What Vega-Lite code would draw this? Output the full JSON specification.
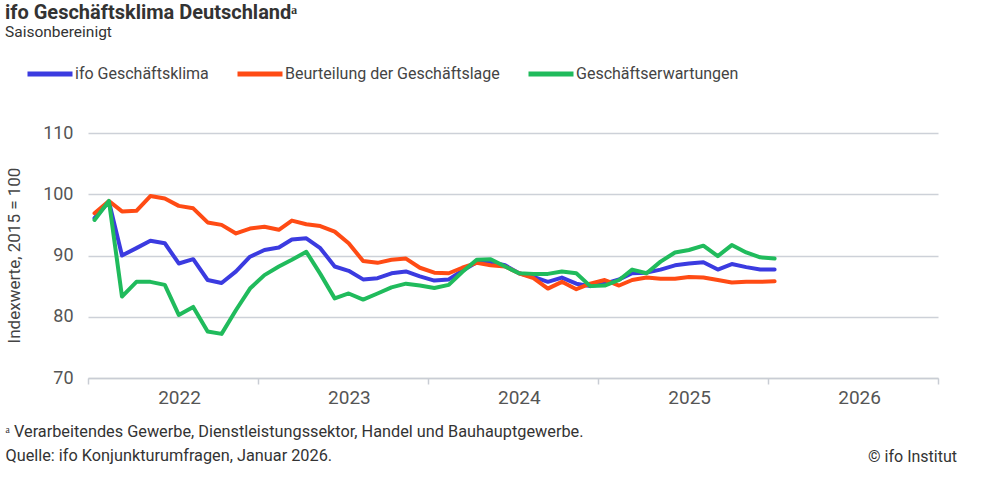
{
  "$schema": "https://vega.github.io/schema/vega-lite/v6.json",
  "width": 850,
  "height": 245,
  "autosize": {"type": "none"},
  "padding": {"left": 88, "top": 133, "right": 62, "bottom": 107},
  "background": "white",
  "config": {
    "font": "Roboto",
    "view": {"stroke": null}
  },
  "title": {
    "text": "ifo Geschäftsklima Deutschlandᵃ",
    "subtitle": "Saisonbereinigt",
    "anchor": "start",
    "frame": "group",
    "dx": -83,
    "font": "Roboto",
    "fontSize": 20,
    "fontWeight": "bold",
    "color": "#333333",
    "subtitleFont": "Roboto",
    "subtitleFontSize": 15.5,
    "subtitleColor": "#333333",
    "subtitlePadding": 2,
    "offset": 9
  },
  "datasets": {
    "ifo": [
      {"date": "2022-01-15", "series": "ifo Geschäftsklima", "value": 96.1},
      {"date": "2022-02-15", "series": "ifo Geschäftsklima", "value": 98.8},
      {"date": "2022-03-15", "series": "ifo Geschäftsklima", "value": 90.0},
      {"date": "2022-04-15", "series": "ifo Geschäftsklima", "value": 91.2},
      {"date": "2022-05-15", "series": "ifo Geschäftsklima", "value": 92.4},
      {"date": "2022-06-15", "series": "ifo Geschäftsklima", "value": 92.0},
      {"date": "2022-07-15", "series": "ifo Geschäftsklima", "value": 88.7},
      {"date": "2022-08-15", "series": "ifo Geschäftsklima", "value": 89.4},
      {"date": "2022-09-15", "series": "ifo Geschäftsklima", "value": 86.0},
      {"date": "2022-10-15", "series": "ifo Geschäftsklima", "value": 85.5},
      {"date": "2022-11-15", "series": "ifo Geschäftsklima", "value": 87.4},
      {"date": "2022-12-15", "series": "ifo Geschäftsklima", "value": 89.8},
      {"date": "2023-01-15", "series": "ifo Geschäftsklima", "value": 90.9},
      {"date": "2023-02-15", "series": "ifo Geschäftsklima", "value": 91.3},
      {"date": "2023-03-15", "series": "ifo Geschäftsklima", "value": 92.6},
      {"date": "2023-04-15", "series": "ifo Geschäftsklima", "value": 92.8},
      {"date": "2023-05-15", "series": "ifo Geschäftsklima", "value": 91.2},
      {"date": "2023-06-15", "series": "ifo Geschäftsklima", "value": 88.2},
      {"date": "2023-07-15", "series": "ifo Geschäftsklima", "value": 87.5},
      {"date": "2023-08-15", "series": "ifo Geschäftsklima", "value": 86.1},
      {"date": "2023-09-15", "series": "ifo Geschäftsklima", "value": 86.3},
      {"date": "2023-10-15", "series": "ifo Geschäftsklima", "value": 87.1},
      {"date": "2023-11-15", "series": "ifo Geschäftsklima", "value": 87.4},
      {"date": "2023-12-15", "series": "ifo Geschäftsklima", "value": 86.6},
      {"date": "2024-01-15", "series": "ifo Geschäftsklima", "value": 85.9},
      {"date": "2024-02-15", "series": "ifo Geschäftsklima", "value": 86.1},
      {"date": "2024-03-15", "series": "ifo Geschäftsklima", "value": 87.5},
      {"date": "2024-04-15", "series": "ifo Geschäftsklima", "value": 88.9},
      {"date": "2024-05-15", "series": "ifo Geschäftsklima", "value": 88.9},
      {"date": "2024-06-15", "series": "ifo Geschäftsklima", "value": 88.4},
      {"date": "2024-07-15", "series": "ifo Geschäftsklima", "value": 87.1},
      {"date": "2024-08-15", "series": "ifo Geschäftsklima", "value": 86.5},
      {"date": "2024-09-15", "series": "ifo Geschäftsklima", "value": 85.7},
      {"date": "2024-10-15", "series": "ifo Geschäftsklima", "value": 86.4},
      {"date": "2024-11-15", "series": "ifo Geschäftsklima", "value": 85.4},
      {"date": "2024-12-15", "series": "ifo Geschäftsklima", "value": 85.0},
      {"date": "2025-01-15", "series": "ifo Geschäftsklima", "value": 85.4},
      {"date": "2025-02-15", "series": "ifo Geschäftsklima", "value": 86.1},
      {"date": "2025-03-15", "series": "ifo Geschäftsklima", "value": 87.1},
      {"date": "2025-04-15", "series": "ifo Geschäftsklima", "value": 87.2},
      {"date": "2025-05-15", "series": "ifo Geschäftsklima", "value": 87.7},
      {"date": "2025-06-15", "series": "ifo Geschäftsklima", "value": 88.4},
      {"date": "2025-07-15", "series": "ifo Geschäftsklima", "value": 88.7},
      {"date": "2025-08-15", "series": "ifo Geschäftsklima", "value": 88.9},
      {"date": "2025-09-15", "series": "ifo Geschäftsklima", "value": 87.7},
      {"date": "2025-10-15", "series": "ifo Geschäftsklima", "value": 88.6},
      {"date": "2025-11-15", "series": "ifo Geschäftsklima", "value": 88.1},
      {"date": "2025-12-15", "series": "ifo Geschäftsklima", "value": 87.7},
      {"date": "2026-01-15", "series": "ifo Geschäftsklima", "value": 87.7},
      {"date": "2022-01-15", "series": "Beurteilung der Geschäftslage", "value": 96.9},
      {"date": "2022-02-15", "series": "Beurteilung der Geschäftslage", "value": 98.9},
      {"date": "2022-03-15", "series": "Beurteilung der Geschäftslage", "value": 97.2},
      {"date": "2022-04-15", "series": "Beurteilung der Geschäftslage", "value": 97.3},
      {"date": "2022-05-15", "series": "Beurteilung der Geschäftslage", "value": 99.7},
      {"date": "2022-06-15", "series": "Beurteilung der Geschäftslage", "value": 99.3},
      {"date": "2022-07-15", "series": "Beurteilung der Geschäftslage", "value": 98.1},
      {"date": "2022-08-15", "series": "Beurteilung der Geschäftslage", "value": 97.7},
      {"date": "2022-09-15", "series": "Beurteilung der Geschäftslage", "value": 95.4},
      {"date": "2022-10-15", "series": "Beurteilung der Geschäftslage", "value": 95.0},
      {"date": "2022-11-15", "series": "Beurteilung der Geschäftslage", "value": 93.6},
      {"date": "2022-12-15", "series": "Beurteilung der Geschäftslage", "value": 94.4},
      {"date": "2023-01-15", "series": "Beurteilung der Geschäftslage", "value": 94.7},
      {"date": "2023-02-15", "series": "Beurteilung der Geschäftslage", "value": 94.2},
      {"date": "2023-03-15", "series": "Beurteilung der Geschäftslage", "value": 95.7},
      {"date": "2023-04-15", "series": "Beurteilung der Geschäftslage", "value": 95.1},
      {"date": "2023-05-15", "series": "Beurteilung der Geschäftslage", "value": 94.8},
      {"date": "2023-06-15", "series": "Beurteilung der Geschäftslage", "value": 93.9},
      {"date": "2023-07-15", "series": "Beurteilung der Geschäftslage", "value": 92.0},
      {"date": "2023-08-15", "series": "Beurteilung der Geschäftslage", "value": 89.1},
      {"date": "2023-09-15", "series": "Beurteilung der Geschäftslage", "value": 88.8},
      {"date": "2023-10-15", "series": "Beurteilung der Geschäftslage", "value": 89.3},
      {"date": "2023-11-15", "series": "Beurteilung der Geschäftslage", "value": 89.5},
      {"date": "2023-12-15", "series": "Beurteilung der Geschäftslage", "value": 88.0},
      {"date": "2024-01-15", "series": "Beurteilung der Geschäftslage", "value": 87.2},
      {"date": "2024-02-15", "series": "Beurteilung der Geschäftslage", "value": 87.1},
      {"date": "2024-03-15", "series": "Beurteilung der Geschäftslage", "value": 88.0},
      {"date": "2024-04-15", "series": "Beurteilung der Geschäftslage", "value": 88.8},
      {"date": "2024-05-15", "series": "Beurteilung der Geschäftslage", "value": 88.4},
      {"date": "2024-06-15", "series": "Beurteilung der Geschäftslage", "value": 88.2},
      {"date": "2024-07-15", "series": "Beurteilung der Geschäftslage", "value": 87.1},
      {"date": "2024-08-15", "series": "Beurteilung der Geschäftslage", "value": 86.3},
      {"date": "2024-09-15", "series": "Beurteilung der Geschäftslage", "value": 84.6},
      {"date": "2024-10-15", "series": "Beurteilung der Geschäftslage", "value": 85.7},
      {"date": "2024-11-15", "series": "Beurteilung der Geschäftslage", "value": 84.5},
      {"date": "2024-12-15", "series": "Beurteilung der Geschäftslage", "value": 85.4},
      {"date": "2025-01-15", "series": "Beurteilung der Geschäftslage", "value": 86.0},
      {"date": "2025-02-15", "series": "Beurteilung der Geschäftslage", "value": 85.1},
      {"date": "2025-03-15", "series": "Beurteilung der Geschäftslage", "value": 86.0},
      {"date": "2025-04-15", "series": "Beurteilung der Geschäftslage", "value": 86.4},
      {"date": "2025-05-15", "series": "Beurteilung der Geschäftslage", "value": 86.2},
      {"date": "2025-06-15", "series": "Beurteilung der Geschäftslage", "value": 86.2},
      {"date": "2025-07-15", "series": "Beurteilung der Geschäftslage", "value": 86.5},
      {"date": "2025-08-15", "series": "Beurteilung der Geschäftslage", "value": 86.4},
      {"date": "2025-09-15", "series": "Beurteilung der Geschäftslage", "value": 86.0},
      {"date": "2025-10-15", "series": "Beurteilung der Geschäftslage", "value": 85.6},
      {"date": "2025-11-15", "series": "Beurteilung der Geschäftslage", "value": 85.7},
      {"date": "2025-12-15", "series": "Beurteilung der Geschäftslage", "value": 85.7},
      {"date": "2026-01-15", "series": "Beurteilung der Geschäftslage", "value": 85.8},
      {"date": "2022-01-15", "series": "Geschäftserwartungen", "value": 95.8},
      {"date": "2022-02-15", "series": "Geschäftserwartungen", "value": 98.9},
      {"date": "2022-03-15", "series": "Geschäftserwartungen", "value": 83.3},
      {"date": "2022-04-15", "series": "Geschäftserwartungen", "value": 85.7},
      {"date": "2022-05-15", "series": "Geschäftserwartungen", "value": 85.7},
      {"date": "2022-06-15", "series": "Geschäftserwartungen", "value": 85.2},
      {"date": "2022-07-15", "series": "Geschäftserwartungen", "value": 80.3},
      {"date": "2022-08-15", "series": "Geschäftserwartungen", "value": 81.6},
      {"date": "2022-09-15", "series": "Geschäftserwartungen", "value": 77.6},
      {"date": "2022-10-15", "series": "Geschäftserwartungen", "value": 77.2},
      {"date": "2022-11-15", "series": "Geschäftserwartungen", "value": 81.1},
      {"date": "2022-12-15", "series": "Geschäftserwartungen", "value": 84.6},
      {"date": "2023-01-15", "series": "Geschäftserwartungen", "value": 86.8},
      {"date": "2023-02-15", "series": "Geschäftserwartungen", "value": 88.2},
      {"date": "2023-03-15", "series": "Geschäftserwartungen", "value": 89.3},
      {"date": "2023-04-15", "series": "Geschäftserwartungen", "value": 90.6},
      {"date": "2023-05-15", "series": "Geschäftserwartungen", "value": 87.0},
      {"date": "2023-06-15", "series": "Geschäftserwartungen", "value": 83.0},
      {"date": "2023-07-15", "series": "Geschäftserwartungen", "value": 83.8},
      {"date": "2023-08-15", "series": "Geschäftserwartungen", "value": 82.8},
      {"date": "2023-09-15", "series": "Geschäftserwartungen", "value": 83.8},
      {"date": "2023-10-15", "series": "Geschäftserwartungen", "value": 84.8},
      {"date": "2023-11-15", "series": "Geschäftserwartungen", "value": 85.4},
      {"date": "2023-12-15", "series": "Geschäftserwartungen", "value": 85.1},
      {"date": "2024-01-15", "series": "Geschäftserwartungen", "value": 84.7},
      {"date": "2024-02-15", "series": "Geschäftserwartungen", "value": 85.2},
      {"date": "2024-03-15", "series": "Geschäftserwartungen", "value": 87.3},
      {"date": "2024-04-15", "series": "Geschäftserwartungen", "value": 89.3},
      {"date": "2024-05-15", "series": "Geschäftserwartungen", "value": 89.4},
      {"date": "2024-06-15", "series": "Geschäftserwartungen", "value": 88.2},
      {"date": "2024-07-15", "series": "Geschäftserwartungen", "value": 87.1},
      {"date": "2024-08-15", "series": "Geschäftserwartungen", "value": 87.0},
      {"date": "2024-09-15", "series": "Geschäftserwartungen", "value": 87.0},
      {"date": "2024-10-15", "series": "Geschäftserwartungen", "value": 87.4},
      {"date": "2024-11-15", "series": "Geschäftserwartungen", "value": 87.1},
      {"date": "2024-12-15", "series": "Geschäftserwartungen", "value": 85.0},
      {"date": "2025-01-15", "series": "Geschäftserwartungen", "value": 85.1},
      {"date": "2025-02-15", "series": "Geschäftserwartungen", "value": 86.0},
      {"date": "2025-03-15", "series": "Geschäftserwartungen", "value": 87.7},
      {"date": "2025-04-15", "series": "Geschäftserwartungen", "value": 87.1},
      {"date": "2025-05-15", "series": "Geschäftserwartungen", "value": 89.0},
      {"date": "2025-06-15", "series": "Geschäftserwartungen", "value": 90.5},
      {"date": "2025-07-15", "series": "Geschäftserwartungen", "value": 90.9},
      {"date": "2025-08-15", "series": "Geschäftserwartungen", "value": 91.6},
      {"date": "2025-09-15", "series": "Geschäftserwartungen", "value": 89.9},
      {"date": "2025-10-15", "series": "Geschäftserwartungen", "value": 91.7},
      {"date": "2025-11-15", "series": "Geschäftserwartungen", "value": 90.5},
      {"date": "2025-12-15", "series": "Geschäftserwartungen", "value": 89.7},
      {"date": "2026-01-15", "series": "Geschäftserwartungen", "value": 89.5}
    ],
    "credit": [
      {"date": "2027-01-01", "value": 57.1, "label": "© ifo Institut"}
    ]
  },
  "layer": [
    {
      "data": {"name": "ifo"},
      "mark": {"type": "line", "strokeWidth": 4, "strokeJoin": "round", "strokeCap": "round"},
      "encoding": {
        "x": {
          "field": "date",
          "type": "temporal",
          "scale": {"type": "utc", "domain": ["2022-01-01", "2027-01-01"], "nice": false},
          "axis": {
            "tickCount": {"interval": "year", "step": 1},
            "labelExpr": "utcyear(datum.value) > 2026 ? '' : utcFormat(datum.value, '%Y')",
            "labelOffset": 91,
            "labelAlign": "center",
            "labelFlush": false,
            "labelOverlap": false,
            "labelBound": false,
            "labelFontSize": 19,
            "labelColor": "#555555",
            "labelPadding": 4,
            "grid": false,
            "domain": true,
            "domainColor": "#c9cdd4",
            "domainWidth": 1.5,
            "ticks": true,
            "tickColor": "#c9cdd4",
            "tickWidth": 1.5,
            "tickSize": 6,
            "title": ["ᵃ Verarbeitendes Gewerbe, Dienstleistungssektor, Handel und Bauhauptgewerbe.", "Quelle: ifo Konjunkturumfragen, Januar 2026."],
            "titleAnchor": "start",
            "titleAlign": "left",
            "titleBaseline": "top",
            "titleX": -83,
            "titleY": 45,
            "titleFontSize": 16.3,
            "titleFontWeight": "normal",
            "titleColor": "#333333",
            "titleLineHeight": 24
          }
        },
        "y": {
          "field": "value",
          "type": "quantitative",
          "scale": {"domain": [70, 110], "nice": false, "zero": false},
          "axis": {
            "values": [70, 80, 90, 100, 110],
            "grid": true,
            "gridColor": "#cdd1d8",
            "gridWidth": 1.5,
            "domain": false,
            "ticks": false,
            "labelFontSize": 18,
            "labelColor": "#555555",
            "labelPadding": 15,
            "title": "Indexwerte, 2015 = 100",
            "titleFontSize": 17,
            "titleFontWeight": "normal",
            "titleColor": "#444444",
            "titleAngle": -90,
            "titleAlign": "center",
            "titleBaseline": "middle",
            "titleX": -74,
            "titleY": 122
          }
        },
        "color": {
          "field": "series",
          "type": "nominal",
          "scale": {
            "domain": ["ifo Geschäftsklima", "Beurteilung der Geschäftslage", "Geschäftserwartungen"],
            "range": ["#3b3be0", "#ff4b14", "#20bb5c"]
          },
          "legend": {
            "title": null,
            "orient": "none",
            "direction": "horizontal",
            "legendX": -63,
            "legendY": -84,
            "symbolType": "stroke",
            "symbolSize": 2025,
            "symbolStrokeWidth": 5,
            "labelFontSize": 16,
            "labelColor": "#444444",
            "labelOffset": 0,
            "columnPadding": 18,
            "labelLimit": 400
          }
        }
      }
    },
    {
      "data": {"name": "credit"},
      "mark": {"type": "text", "align": "right", "baseline": "middle", "dx": 19, "fontSize": 16, "color": "#333333"},
      "encoding": {
        "x": {"field": "date", "type": "temporal"},
        "y": {"field": "value", "type": "quantitative"},
        "text": {"field": "label"}
      }
    }
  ]
}
